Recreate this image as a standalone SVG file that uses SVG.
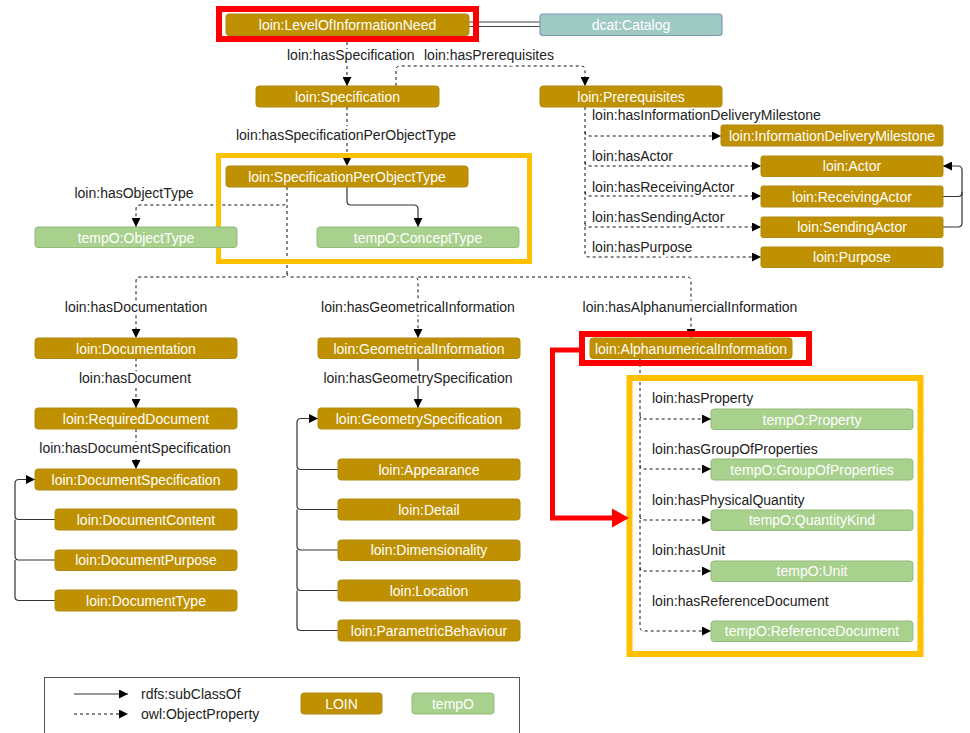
<svg xmlns="http://www.w3.org/2000/svg" width="970" height="733" viewBox="0 0 970 733">
<defs>
<style>
.g rect{fill:#bf9000;stroke:#b08a10;stroke-width:1}
.t rect{fill:#a9d18e;stroke:#93ba7a;stroke-width:1}
.c rect{fill:#9fc9c3;stroke:#7f98b8;stroke-width:1.2}
.g text,.t text,.c text{fill:#fff;font-family:"Liberation Sans",Arial,sans-serif;font-size:14px;text-anchor:middle;dominant-baseline:central}
.lbl{fill:#222;font-family:"Liberation Sans",Arial,sans-serif;font-size:14px;dominant-baseline:central;paint-order:stroke;stroke:#fff;stroke-width:6px;stroke-linejoin:round}
.mid{text-anchor:middle}
.d{fill:none;stroke:#111;stroke-width:1;stroke-dasharray:3 3}
.s{fill:none;stroke:#333;stroke-width:1.2}
</style>
<marker id="a" viewBox="0 0 10 10" refX="10" refY="5" markerWidth="9" markerHeight="9" markerUnits="userSpaceOnUse" orient="auto"><path d="M0,0 L10,5 L0,10 z" fill="#000"/></marker>
</defs>
<rect width="970" height="733" fill="#fff"/>

<g id="connectors">
<path d="M469,22 L540,22 M469,26.5 L540,26.5" stroke="#444" stroke-width="1.2" fill="none"/>
<path class="d" d="M347,36 L347,86" marker-end="url(#a)"/>
<path class="d" d="M396,86 L396,70 Q396,66 400,66 L581,66 Q585,66 585,70 L585,86" marker-end="url(#a)"/>
<path class="d" d="M347,107 L347,166" marker-end="url(#a)"/>
<path class="s" d="M347,187 L347,201 Q347,205 351,205 L414,205 Q418,205 418,209 L418,227" marker-end="url(#a)"/>
<path class="d" d="M287,187 L287,201 Q287,205 283,205 L140,205 Q136,205 136,209 L136,227" marker-end="url(#a)"/>
<path class="d" d="M287,205 L287,273 Q287,277 283,277 L140,277 Q136,277 136,281 L136,338" marker-end="url(#a)"/>
<path class="d" d="M287,273 Q287,277 291,277 L414,277 Q418,277 418,281 L418,338" marker-end="url(#a)"/>
<path class="d" d="M418,277 L687,277 Q691,277 691,281 L691,338" marker-end="url(#a)"/>
<path class="d" d="M136,358 L136,408" marker-end="url(#a)"/>
<path class="d" d="M136,429 L136,469" marker-end="url(#a)"/>
<path class="s" d="M55,519.5 L19,519.5 Q15,519.5 15,515.5 L15,483.5 Q15,479.5 19,479.5 L35,479.5" marker-end="url(#a)"/>
<path class="s" d="M55,560 L19,560 Q15,560 15,556 L15,519.5"/>
<path class="s" d="M55,600.5 L19,600.5 Q15,600.5 15,596.5 L15,560"/>
<path class="s" d="M418,358 L418,408" marker-end="url(#a)"/>
<path class="s" d="M338,469.5 L301,469.5 Q297,469.5 297,465.5 L297,422.5 Q297,418.5 301,418.5 L318,418.5" marker-end="url(#a)"/>
<path class="s" d="M338,509.5 L301,509.5 Q297,509.5 297,505.5 L297,469.5"/>
<path class="s" d="M338,550 L301,550 Q297,550 297,546 L297,509.5"/>
<path class="s" d="M338,590.5 L301,590.5 Q297,590.5 297,586.5 L297,550"/>
<path class="s" d="M338,630.5 L301,630.5 Q297,630.5 297,626.5 L297,590.5"/>
<path class="d" d="M585,107 L585,253 Q585,257 589,257 L761,257" marker-end="url(#a)"/>
<path class="d" d="M585,132 Q585,136 589,136 L721,136" marker-end="url(#a)"/>
<path class="d" d="M585,162 Q585,166 589,166 L761,166" marker-end="url(#a)"/>
<path class="d" d="M585,192 Q585,196 589,196 L761,196" marker-end="url(#a)"/>
<path class="d" d="M585,223 Q585,227 589,227 L761,227" marker-end="url(#a)"/>
<path class="s" d="M943,196.5 L958,196.5 Q962,196.5 962,192.5 L962,170 Q962,166 958,166 L943,166" marker-end="url(#a)"/>
<path class="s" d="M943,227 L958,227 Q962,227 962,223 L962,192"/>
<path class="d" d="M640,358 L640,627 Q640,631 644,631 L711,631" marker-end="url(#a)"/>
<path class="d" d="M640,415 Q640,419 644,419 L711,419" marker-end="url(#a)"/>
<path class="d" d="M640,465 Q640,469 644,469 L711,469" marker-end="url(#a)"/>
<path class="d" d="M640,516 Q640,520 644,520 L711,520" marker-end="url(#a)"/>
<path class="d" d="M640,567 Q640,571 644,571 L711,571" marker-end="url(#a)"/>
</g>

<g id="edge-labels">
<text class="lbl" x="287" y="55">loin:hasSpecification</text>
<text class="lbl" x="424" y="55">loin:hasPrerequisites</text>
<text class="lbl mid" x="346" y="135">loin:hasSpecificationPerObjectType</text>
<text class="lbl mid" x="134" y="193">loin:hasObjectType</text>
<text class="lbl mid" x="136" y="307">loin:hasDocumentation</text>
<text class="lbl mid" x="418" y="307">loin:hasGeometricalInformation</text>
<text class="lbl mid" x="690" y="307">loin:hasAlphanumercialInformation</text>
<text class="lbl mid" x="135" y="378">loin:hasDocument</text>
<text class="lbl mid" x="135" y="448">loin:hasDocumentSpecification</text>
<text class="lbl mid" x="418" y="378">loin:hasGeometrySpecification</text>
<text class="lbl" x="592" y="115">loin:hasInformationDeliveryMilestone</text>
<text class="lbl" x="592" y="156">loin:hasActor</text>
<text class="lbl" x="592" y="187">loin:hasReceivingActor</text>
<text class="lbl" x="592" y="217">loin:hasSendingActor</text>
<text class="lbl" x="592" y="247">loin:hasPurpose</text>
<text class="lbl" x="652" y="398">loin:hasProperty</text>
<text class="lbl" x="652" y="449">loin:hasGroupOfProperties</text>
<text class="lbl" x="652" y="500">loin:hasPhysicalQuantity</text>
<text class="lbl" x="652" y="550">loin:hasUnit</text>
<text class="lbl" x="652" y="601">loin:hasReferenceDocument</text>
</g>

<g id="highlights">
<rect x="219" y="9" width="257" height="30" fill="none" stroke="#ff0000" stroke-width="6"/>
<rect x="218.5" y="155.5" width="311" height="106" fill="none" stroke="#ffc000" stroke-width="5"/>
<rect x="582" y="334" width="227" height="29" fill="none" stroke="#ff0000" stroke-width="6"/>
<rect x="629.5" y="378" width="291" height="276" fill="none" stroke="#ffc000" stroke-width="6"/>
<path d="M579,350 L552.5,350 L552.5,518 L614,518" fill="none" stroke="#ff0000" stroke-width="5"/>
<path d="M612,508.5 L629,518 L612,527.5 z" fill="#ff0000"/>
</g>

<g id="n-loin" class="g"><rect x="226" y="14" width="243" height="21.5" rx="3"/><text x="347.5" y="25">loin:LevelOfInformationNeed</text></g>
<g id="n-catalog" class="c"><rect x="540" y="14" width="182" height="21.5" rx="3"/><text x="631" y="25">dcat:Catalog</text></g>
<g id="n-spec" class="g"><rect x="256" y="86" width="183" height="21" rx="3"/><text x="347.5" y="96.5">loin:Specification</text></g>
<g id="n-prereq" class="g"><rect x="540" y="86" width="182" height="21" rx="3"/><text x="631" y="96.5">loin:Prerequisites</text></g>
<g id="n-spot" class="g"><rect x="226" y="166" width="242" height="21" rx="3"/><text x="347" y="176.5">loin:SpecificationPerObjectType</text></g>
<g id="n-objecttype" class="t"><rect x="35" y="227" width="202" height="20.5" rx="3"/><text x="136" y="237.5">tempO:ObjectType</text></g>
<g id="n-concepttype" class="t"><rect x="317" y="227" width="202" height="20.5" rx="3"/><text x="418" y="237.5">tempO:ConceptType</text></g>
<g id="n-idm" class="g"><rect x="721" y="125" width="222" height="21" rx="2"/><text x="832" y="135.5">loin:InformationDeliveryMilestone</text></g>
<g id="n-actor" class="g"><rect x="761" y="156" width="182" height="20.5" rx="2"/><text x="852" y="166">loin:Actor</text></g>
<g id="n-recv" class="g"><rect x="761" y="186" width="182" height="21" rx="2"/><text x="852" y="196.5">loin:ReceivingActor</text></g>
<g id="n-send" class="g"><rect x="761" y="217" width="182" height="20.5" rx="2"/><text x="852" y="227">loin:SendingActor</text></g>
<g id="n-purpose" class="g"><rect x="761" y="247" width="182" height="20.5" rx="2"/><text x="852" y="257">loin:Purpose</text></g>
<g id="n-doc" class="g"><rect x="35" y="338" width="202" height="20.5" rx="3"/><text x="136" y="348.5">loin:Documentation</text></g>
<g id="n-reqdoc" class="g"><rect x="35" y="408" width="202" height="21" rx="3"/><text x="136" y="418.5">loin:RequiredDocument</text></g>
<g id="n-docspec" class="g"><rect x="35" y="469" width="202" height="21" rx="3"/><text x="136" y="479.5">loin:DocumentSpecification</text></g>
<g id="n-doccontent" class="g"><rect x="55" y="509" width="182" height="21" rx="3"/><text x="146" y="519.5">loin:DocumentContent</text></g>
<g id="n-docpurpose" class="g"><rect x="55" y="550" width="182" height="20.5" rx="3"/><text x="146" y="560">loin:DocumentPurpose</text></g>
<g id="n-doctype" class="g"><rect x="55" y="590" width="182" height="21" rx="3"/><text x="146" y="600.5">loin:DocumentType</text></g>
<g id="n-geominfo" class="g"><rect x="318" y="338" width="202" height="20.5" rx="3"/><text x="419" y="348.5">loin:GeometricalInformation</text></g>
<g id="n-geomspec" class="g"><rect x="318" y="408" width="202" height="21" rx="3"/><text x="419" y="418.5">loin:GeometrySpecification</text></g>
<g id="n-appearance" class="g"><rect x="338" y="459" width="182" height="21" rx="3"/><text x="429" y="469.5">loin:Appearance</text></g>
<g id="n-detail" class="g"><rect x="338" y="499" width="182" height="21" rx="3"/><text x="429" y="509.5">loin:Detail</text></g>
<g id="n-dim" class="g"><rect x="338" y="540" width="182" height="20.5" rx="3"/><text x="429" y="550">loin:Dimensionality</text></g>
<g id="n-location" class="g"><rect x="338" y="580" width="182" height="21" rx="3"/><text x="429" y="590.5">loin:Location</text></g>
<g id="n-param" class="g"><rect x="338" y="620" width="182" height="21" rx="3"/><text x="429" y="630.5">loin:ParametricBehaviour</text></g>
<g id="n-alpha" class="g"><rect x="590" y="338" width="202" height="20.5" rx="3"/><text x="691" y="348.5">loin:AlphanumericalInformation</text></g>
<g id="n-property" class="t"><rect x="711" y="409" width="202" height="20.5" rx="3"/><text x="812" y="419.5">tempO:Property</text></g>
<g id="n-group" class="t"><rect x="711" y="459" width="202" height="21" rx="3"/><text x="812" y="469.5">tempO:GroupOfProperties</text></g>
<g id="n-quantity" class="t"><rect x="711" y="510" width="202" height="20.5" rx="3"/><text x="812" y="520">tempO:QuantityKind</text></g>
<g id="n-unit" class="t"><rect x="711" y="561" width="202" height="20.5" rx="3"/><text x="812" y="571">tempO:Unit</text></g>
<g id="n-refdoc" class="t"><rect x="711" y="621" width="202" height="20.5" rx="3"/><text x="812" y="631">tempO:ReferenceDocument</text></g>

<g id="legend">
<rect x="44.5" y="677.5" width="475" height="60" fill="#fff" stroke="#555" stroke-width="1"/>
<path class="s" d="M74,694 L128,694" stroke="#000" marker-end="url(#a)"/>
<path class="d" d="M74,714 L128,714" marker-end="url(#a)"/>
<text class="lbl" x="141" y="694">rdfs:subClassOf</text>
<text class="lbl" x="141" y="714">owl:ObjectProperty</text>
<g class="g"><rect x="301" y="693" width="81" height="21" rx="3"/><text x="341.5" y="703.5">LOIN</text></g>
<g class="t"><rect x="412" y="693" width="82" height="21" rx="3"/><text x="453" y="703.5">tempO</text></g>
</g>
</svg>
